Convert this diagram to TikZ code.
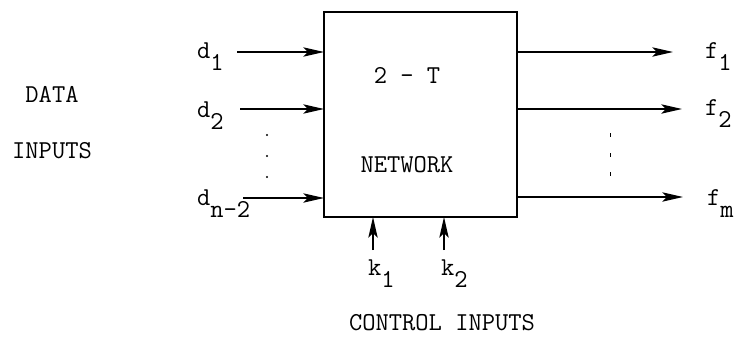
\documentclass[tikz,border=0pt]{standalone}
\usepackage{tikz}
\usetikzlibrary{calc, positioning, arrows.meta}

\begin{document}
\begin{tikzpicture}[
        x=0.03cm, y=-0.03cm,
        every node/.style={inner sep=0pt, outer sep=0pt, font=\fontsize{22}{24}\selectfont\ttfamily},
        netbox/.style={draw, line width=1.6pt, minimum width=5.79cm, minimum height=6.15cm},
        sig/.style={-{Stealth[length=0.62cm, width=0.28cm, inset=0.14cm]}, line width=1.4pt},
        lbl/.style={anchor=base west}
      ]
        \useasboundingbox (0,0) rectangle (734,337);

        \node[netbox] (net) at (420.5,114.5) {};
        \node (title) at (407,75) {2 - T};
        \node (kind) at (407,165) {NETWORK};

        \node (data) at (52,94) {DATA};
        \node (inputs) at (52,151) {INPUTS};
        \node (control) at (442,323) {CONTROL INPUTS};

        \coordinate (d1) at (237,52);
        \coordinate (d2) at (240,109);
        \coordinate (dn) at (243,198);
        \coordinate (f1) at (673,52);
        \coordinate (f2) at (682,109);
        \coordinate (fm) at (683,197);
        \coordinate (k1) at (373,250);
        \coordinate (k2) at (444,250);

        \node[lbl] (ld1) at (197,58) {d\raisebox{-0.36cm}{1}};
        \node[lbl] (ld2) at (197,117) {d\raisebox{-0.36cm}{2}};
        \node[lbl] (ldn) at (197,205) {d\raisebox{-0.36cm}{n-2}};
        \node[lbl] (lf1) at (705,58) {f\raisebox{-0.36cm}{1}};
        \node[lbl] (lf2) at (705,115) {f\raisebox{-0.36cm}{2}};
        \node[lbl] (lfm) at (707,205) {f\raisebox{-0.36cm}{m}};
        \node[lbl] (lk1) at (368,275) {k\raisebox{-0.36cm}{1}};
        \node[lbl] (lk2) at (441,275) {k\raisebox{-0.36cm}{2}};

        \draw[sig] (d1) -- (d1 -| net.west);
        \draw[sig] (d2) -- (d2 -| net.west);
        \draw[sig] (dn) -- (dn -| net.west);
        \draw[sig] (f1 -| net.east) -- (f1);
        \draw[sig] (f2 -| net.east) -- (f2);
        \draw[sig] (fm -| net.east) -- (fm);
        \draw[sig] (k1) -- (k1 |- net.south);
        \draw[sig] (k2) -- (k2 |- net.south);

        \foreach \y in {135,156,177} \fill (267,\y) circle (1.1);
        \foreach \y in {135,155,174} \draw[line width=0.8pt] (610,\y-2) -- (610,\y+2);
      \end{tikzpicture}
\end{document}
